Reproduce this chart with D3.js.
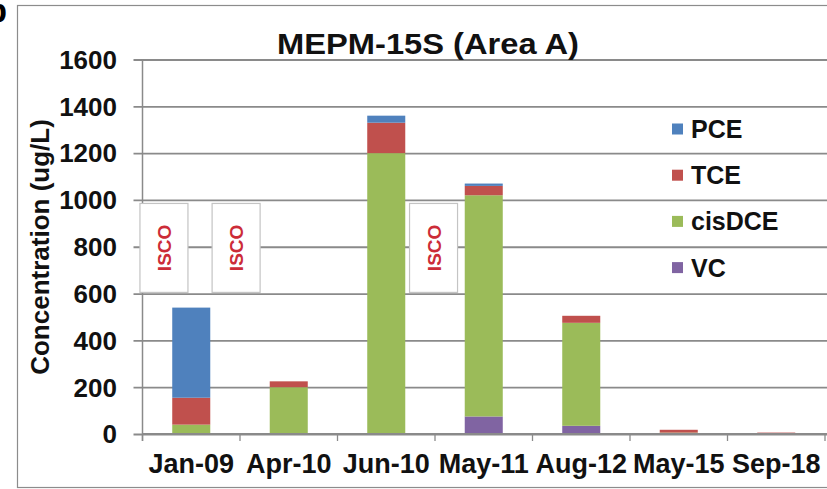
<!DOCTYPE html>
<html>
<head>
<meta charset="utf-8">
<script src="https://cdn.jsdelivr.net/npm/d3@7"></script>
<style>
  html, body { margin: 0; padding: 0; background: #fff; }
  svg { display: block; font-family: "Liberation Sans", Arial, sans-serif; }
</style>
</head>
<body>
<svg id="chart" width="827" height="489"></svg>
<script>
// Sampling dates (x categories)
const categories = ["Jan-09", "Apr-10", "Jun-10", "May-11", "Aug-12", "May-15", "Sep-18"];

// Concentrations in ug/L for each compound
const pce    = [385, 0, 30, 10, 0, 0, 0];
const tce    = [115, 25, 130, 40, 30, 12, 2];
const cisDCE = [40, 200, 1200, 945, 440, 6, 2];
const vc     = [0, 0, 0, 75, 35, 0, 2];

// Y axis ticks
const yTicks = [0, 200, 400, 600, 800, 1000, 1200, 1400, 1600];

// Series in stacking order (bottom to top) and legend order (top to bottom)
const seriesNames = ["VC", "cisDCE", "TCE", "PCE"];
const legendNames = ["PCE", "TCE", "cisDCE", "VC"];
const seriesColors = { PCE: "#4f81bd", TCE: "#c0504d", cisDCE: "#9bbb59", VC: "#8064a2" };

// ISCO treatment events, placed along the category axis (band index units)
const iscoLabels = ["ISCO", "ISCO", "ISCO"];
const iscoPositions = [0.22, 0.96, 2.985];

const rows = categories.map((c, i) => ({
  date: c, PCE: pce[i], TCE: tce[i], cisDCE: cisDCE[i], VC: vc[i]
}));

const svg = d3.select("#chart");
const W = 827, H = 489;
const plot = { left: 142.5, right: 825, top: 59.5, bottom: 434 };

// Outer chart frame
svg.append("rect")
  .attr("x", 17.5).attr("y", 5.5)
  .attr("width", 830).attr("height", 482)
  .attr("fill", "#fff").attr("stroke", "#8c8c8c").attr("stroke-width", 1.2);

// Panel letter at the upper left (partly outside the page)
svg.append("text")
  .attr("x", 7).attr("y", 22)
  .attr("text-anchor", "end")
  .attr("font-size", 34).attr("font-weight", "bold")
  .attr("fill", "#000")
  .text("b");

const x = d3.scaleBand()
  .domain(categories)
  .range([plot.left, plot.right])
  .paddingInner(0.61).paddingOuter(0.305);

const y = d3.scaleLinear()
  .domain([0, 1600])
  .range([plot.bottom, plot.top]);

// Horizontal gridlines with outside tick marks
const yAxis = d3.axisLeft(y)
  .tickValues(yTicks)
  .tickSize(-(plot.right - plot.left + 5))
  .tickSizeOuter(0)
  .tickFormat("");
const gy = svg.append("g")
  .attr("transform", `translate(${plot.left},0)`)
  .call(yAxis);
gy.select(".domain").remove();
gy.selectAll(".tick line")
  .attr("x1", -9)
  .attr("stroke", "#8a8a8a").attr("stroke-width", 1.8);

// Y tick labels
svg.append("g").selectAll("text")
  .data(yTicks)
  .join("text")
  .attr("x", 117)
  .attr("y", d => y(d))
  .attr("dy", "0.36em")
  .attr("text-anchor", "end")
  .attr("font-size", 26).attr("font-weight", "bold")
  .attr("fill", "#111")
  .text(d => d);

// Vertical axis line
svg.append("line")
  .attr("x1", plot.left).attr("x2", plot.left)
  .attr("y1", plot.top).attr("y2", plot.bottom + 7)
  .attr("stroke", "#8a8a8a").attr("stroke-width", 1.5);

// Category boundary ticks along the x axis
const step = x.step();
svg.append("g").selectAll("line")
  .data(d3.range(categories.length + 1))
  .join("line")
  .attr("x1", i => plot.left + i * step).attr("x2", i => plot.left + i * step)
  .attr("y1", plot.bottom).attr("y2", plot.bottom + 7)
  .attr("stroke", "#8a8a8a").attr("stroke-width", 1.3);

// ISCO event markers
const iscoG = svg.append("g").selectAll("g")
  .data(iscoPositions.map((p, i) => ({ p, label: iscoLabels[i] })))
  .join("g")
  .attr("transform", d => `translate(${plot.left + d.p * step},0)`);
iscoG.append("rect")
  .attr("x", -24).attr("y", y(985))
  .attr("width", 48).attr("height", y(605) - y(985))
  .attr("fill", "#fff").attr("stroke", "#c4c4c4").attr("stroke-width", 1.2);
iscoG.append("text")
  .attr("transform", `translate(7,${(y(985) + y(605)) / 2}) rotate(-90)`)
  .attr("text-anchor", "middle")
  .attr("font-size", 19).attr("font-weight", "bold")
  .attr("fill", "#cc2c38")
  .text(d => d.label);

// Stacked bars
const stacked = d3.stack().keys(seriesNames)(rows);
svg.append("g").selectAll("g")
  .data(stacked)
  .join("g")
  .attr("fill", s => seriesColors[s.key])
  .selectAll("rect")
  .data(s => s)
  .join("rect")
  .attr("x", d => x(d.data.date))
  .attr("width", x.bandwidth())
  .attr("y", d => y(d[1]))
  .attr("height", d => Math.max(0, y(d[0]) - y(d[1])));

// X axis baseline
svg.append("line")
  .attr("x1", plot.left).attr("x2", W)
  .attr("y1", plot.bottom).attr("y2", plot.bottom)
  .attr("stroke", "#8a8a8a").attr("stroke-width", 1.8);

// X category labels
svg.append("g").selectAll("text")
  .data(categories)
  .join("text")
  .attr("x", d => x(d) + x.bandwidth() / 2)
  .attr("y", 473)
  .attr("text-anchor", "middle")
  .attr("font-size", 27).attr("font-weight", "bold")
  .attr("fill", "#111")
  .text(d => d);

// Y axis title
svg.append("text")
  .attr("transform", "translate(49,247) rotate(-90)")
  .attr("text-anchor", "middle")
  .attr("font-size", 26).attr("font-weight", "bold")
  .attr("fill", "#111")
  .text("Concentration (ug/L)");

// Chart title
svg.append("text")
  .attr("x", 428).attr("y", 54)
  .attr("text-anchor", "middle")
  .attr("font-size", 30).attr("font-weight", "bold")
  .attr("textLength", 302).attr("lengthAdjust", "spacingAndGlyphs")
  .attr("fill", "#111")
  .text("MEPM-15S (Area  A)");

// Legend
const legend = svg.append("g").selectAll("g")
  .data(legendNames)
  .join("g")
  .attr("transform", (d, i) => `translate(672,${129 + i * 46.2})`);
legend.append("rect")
  .attr("x", 0).attr("y", -5.5)
  .attr("width", 11).attr("height", 11)
  .attr("fill", d => seriesColors[d]);
legend.append("text")
  .attr("x", 19).attr("y", 0)
  .attr("dy", "0.36em")
  .attr("font-size", 25).attr("font-weight", "bold")
  .attr("fill", "#111")
  .text(d => d);
</script>
</body>
</html>
